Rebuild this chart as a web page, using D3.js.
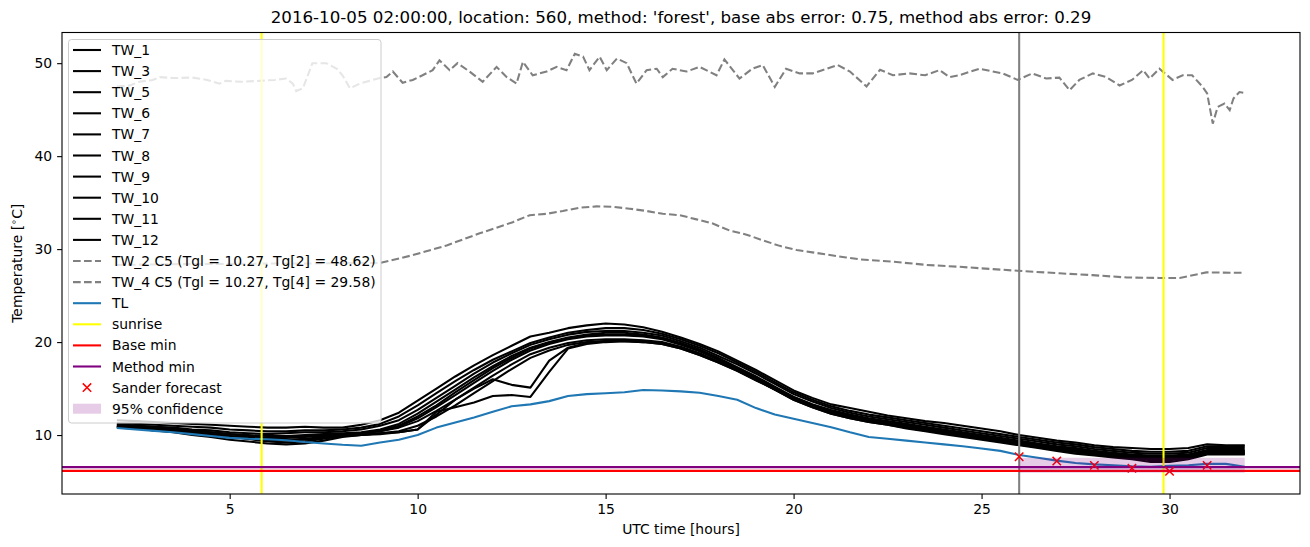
<!DOCTYPE html>
<html><head><meta charset="utf-8">
<script src="https://cdn.jsdelivr.net/npm/d3@7"></script>
<style>body{margin:0;background:#fff} svg{display:block} text{font-family:"DejaVu Sans",sans-serif;fill:#000}</style>
</head><body><svg id="c" width="1310" height="547"></svg>
<script>
// ---------------- DATA ----------------
const titleText = "2016-10-05 02:00:00, location: 560, method: 'forest', base abs error: 0.75, method abs error: 0.29";
const xTicks = [5, 10, 15, 20, 25, 30];
const yTicks = [10, 20, 30, 40, 50];

// half-hour grid for the TW sensor curves and TL
const hours = [2,2.5,3,3.5,4,4.5,5,5.5,6,6.5,7,7.5,8,8.5,9,9.5,10,10.5,11,11.5,12,12.5,13,13.5,14,14.5,15,15.5,16,16.5,17,17.5,18,18.5,19,19.5,20,20.5,21,21.5,22,22.5,23,23.5,24,24.5,25,25.5,26,26.5,27,27.5,28,28.5,29,29.5,30,30.5,31,31.5,32];

const TW_1 = [11.6,11.5,11.4,11.3,11.2,11.1,11.0,10.9,10.8,10.8, 10.9,10.8,10.8,11.1,11.6,12.4,13.7,15.0,16.3,17.5, 18.6,19.6,20.6,21.0,21.5,21.8,22.0,21.9,21.6,21.1, 20.5,19.8,19.0,18.0,17.0,15.9,14.8,14.0,13.3,12.9, 12.5,12.1,11.8,11.5,11.3,11.0,10.7,10.4,10.0,9.7, 9.4,9.2,8.9,8.7,8.6,8.5,8.5,8.6,9.0,8.9, 8.9];
const TW_3 = [11.3,11.2,11.1,11.0,10.9,10.8,10.6,10.5,10.4,10.4, 10.5,10.5,10.6,10.8,11.2,12.0,13.2,14.5,15.8,17.0, 18.1,19.0,19.9,20.5,21.0,21.3,21.5,21.5,21.3,20.9, 20.3,19.6,18.8,17.8,16.8,15.7,14.6,13.8,13.1,12.6, 12.2,11.9,11.6,11.3,11.0,10.7,10.4,10.1,9.8,9.5, 9.2,9.0,8.7,8.5,8.3,8.2,8.2,8.3,8.8,8.8, 8.8];
const TW_5 = [11.1,11.0,10.9,10.8,10.6,10.5,10.3,10.2,10.1,10.2, 10.3,10.3,10.4,10.6,11.0,11.6,12.7,14.0,15.3,16.6, 17.8,18.8,19.7,20.3,20.8,21.1,21.2,21.2,21.0,20.7, 20.1,19.4,18.5,17.6,16.6,15.5,14.4,13.6,12.9,12.4, 12.0,11.7,11.4,11.1,10.8,10.5,10.2,9.9,9.6,9.3, 9.0,8.8,8.5,8.3,8.1,8.0,8.0,8.1,8.6,8.6, 8.6];
const TW_6 = [11.0,10.9,10.8,10.6,10.5,10.3,10.1,10.0,9.9,9.9, 10.0,10.1,10.2,10.3,10.6,11.2,12.3,13.6,14.9,16.2, 17.4,18.5,19.4,20.0,20.5,20.8,21.0,21.0,20.8,20.5, 19.9,19.2,18.3,17.3,16.3,15.2,14.1,13.3,12.7,12.2, 11.8,11.5,11.2,10.9,10.6,10.3,10.0,9.7,9.4,9.1, 8.8,8.6,8.3,8.1,7.9,7.8,7.8,7.9,8.4,8.4, 8.4];
const TW_7 = [10.9,10.8,10.6,10.5,10.3,10.1,9.9,9.8,9.7,9.8, 9.9,10.0,10.1,10.2,10.4,10.9,11.8,13.0,14.3,15.6, 16.9,18.1,19.1,19.8,20.3,20.6,20.7,20.7,20.6,20.3, 19.7,19.0,18.1,17.1,16.1,15.0,14.0,13.2,12.5,12.0, 11.6,11.3,11.0,10.7,10.4,10.1,9.8,9.5,9.2,8.9, 8.6,8.4,8.1,7.9,7.7,7.6,7.6,7.7,8.2,8.2, 8.2];
const TW_8 = [10.8,10.7,10.5,10.4,10.2,10.0,9.8,9.6,9.5,9.5, 9.6,9.8,10.0,10.2,10.4,10.8,11.5,12.6,13.8,15.1, 16.4,17.6,18.7,19.4,19.9,20.2,20.3,20.3,20.2,20.0, 19.5,18.8,17.9,17.0,16.0,14.9,13.9,13.1,12.4,11.9, 11.5,11.2,10.9,10.6,10.3,10.0,9.7,9.4,9.1,8.8, 8.5,8.3,8.0,7.8,7.6,7.5,7.5,7.6,8.1,8.1, 8.1];
const TW_9 = [10.9,10.7,10.5,10.3,10.0,9.8,9.5,9.3,9.1,9.0, 9.1,9.4,9.8,10.0,10.2,10.4,11.0,12.0,13.2,14.5, 15.8,17.1,18.3,19.1,19.7,20.0,20.1,20.1,20.0,19.8, 19.3,18.6,17.8,16.9,15.9,14.9,13.8,13.0,12.3,11.8, 11.4,11.1,10.7,10.4,10.1,9.8,9.5,9.2,8.9,8.6, 8.3,8.0,7.8,7.6,7.4,7.1,7.1,7.4,7.9,7.9, 7.9];
const TW_10 = [11.2,11.0,10.9,10.7,10.5,10.3,10.1,9.9,9.7,9.7, 9.8,9.9,10.0,10.2,10.5,11.0,12.0,13.2,14.6,15.9, 17.2,18.3,19.3,19.9,20.4,20.7,20.8,20.8,20.7,20.4, 19.8,19.1,18.2,17.2,16.2,15.1,14.1,13.3,12.6,12.1, 11.7,11.4,11.1,10.8,10.5,10.2,9.9,9.6,9.3,9.0, 8.7,8.5,8.2,8.0,7.8,7.7,7.7,7.8,8.3,8.3, 8.3];
const TW_11 = [11.0,10.8,10.7,10.5,10.3,10.1,9.9,9.6,9.4,9.4, 9.5,9.7,9.9,10.0,10.2,10.3,10.6,12.2,13.8,15.0, 16.0,15.4,15.1,18.0,19.4,19.9,20.1,20.2,20.1,19.9, 19.4,18.7,17.9,17.0,16.0,15.0,13.9,13.1,12.4,11.9, 11.5,11.2,10.8,10.5,10.2,9.9,9.6,9.3,9.0,8.7, 8.4,8.2,7.9,7.7,7.5,7.3,7.3,7.5,8.0,8.0, 8.0];
const TW_12 = [10.9,10.8,10.6,10.4,10.2,10.0,9.8,9.6,9.3,9.2, 9.3,9.6,9.9,10.0,10.1,10.3,10.6,12.5,13.0,13.5, 14.2,14.3,14.1,16.8,19.3,19.8,20.0,20.1,20.0,19.8, 19.3,18.6,17.8,16.9,15.9,14.9,13.8,13.0,12.3,11.8, 11.4,11.1,10.8,10.5,10.2,9.9,9.6,9.3,9.0,8.7, 8.4,8.2,7.9,7.7,7.5,7.4,7.4,7.6,8.0,8.0, 8.0];

const TL = [10.75,10.6,10.45,10.3,10.1,9.9,9.7,9.6,9.55,9.45, 9.25,9.1,8.95,8.85,9.2,9.5,10.0,10.8,11.35,11.9, 12.5,13.1,13.3,13.65,14.2,14.4,14.5,14.6,14.85,14.8, 14.7,14.55,14.2,13.8,12.9,12.2,11.75,11.3,10.85,10.3, 9.8,9.6,9.4,9.2,9.0,8.8,8.55,8.3,7.85,7.55, 7.25,7.0,6.85,6.75,6.65,6.6,6.7,6.75,6.9,6.9, 6.6];

const tw2Hours = [2.0,2.34,2.6,2.95,3.14,3.5,4.0,4.4,4.73,4.9,5.3,5.8,6.2,6.5,6.68,6.77,6.95,7.2,7.57,7.85,8.0,8.2,8.46,8.8,9.0,9.17,9.34,9.6,9.87,10.13,10.4,10.58,10.85,11.06,11.38,11.73,12.1,12.37,12.63,12.8,13.06,13.43,13.7,13.96,14.18,14.4,14.57,14.84,15.03,15.3,15.56,15.82,16.09,16.36,16.52,16.78,17.15,17.5,17.95,18.16,18.56,18.9,19.18,19.5,19.8,20.16,20.5,20.88,21.17,21.5,21.94,22.3,22.64,23.08,23.5,23.88,24.15,24.4,24.95,25.3,25.56,25.96,26.35,26.72,27.07,27.34,27.6,27.96,28.32,28.67,29.0,29.3,29.47,29.73,30.08,30.35,30.6,30.88,31.0,31.15,31.28,31.46,31.6,31.7,31.86,32.0];
const TW_2 = [47.5,47.6,48.0,48.2,48.5,48.4,48.45,48.2,47.8,48.1,48.0,48.1,48.2,48.35,47.8,47.0,47.3,50.0,50.0,49.4,48.7,47.3,47.8,48.2,48.4,48.5,49.1,47.9,48.2,48.7,49.25,50.3,49.25,50.0,49.1,48.0,49.6,48.5,47.8,50.15,48.7,49.1,49.6,49.25,51.0,50.7,49.25,50.7,49.25,50.5,50.0,47.8,49.25,49.4,48.5,49.4,49.1,49.6,48.7,50.4,48.35,49.4,49.8,47.45,49.4,48.9,48.9,49.4,49.8,49.1,47.5,49.3,48.7,48.9,48.7,49.25,48.5,48.7,49.4,49.1,48.9,48.2,48.9,48.35,48.45,47.1,48.2,48.9,48.5,47.6,48.2,49.25,48.35,49.4,48.2,48.7,48.7,47.45,46.75,43.5,45.3,45.65,44.95,46.2,46.9,46.8];

const tw4Hours = [2,3,4,5,6,7,8,8.99,9.87,10.77,11.65,12.53,12.98,13.43,13.86,14.3,14.76,15.19,15.64,16.09,16.52,16.97,17.42,17.85,18.3,18.75,19.18,19.63,20.08,20.5,21.4,21.76,22.63,23.54,24.4,25.3,25.96,27.07,27.95,28.86,29.73,30.27,30.98,31.86,32];
const TW_4 = [28.3,28.35,28.4,28.4,28.45,28.45,28.5,28.5,29.35,30.4,31.7,32.9,33.65,33.8,34.1,34.45,34.6,34.55,34.35,34.1,33.8,33.65,33.2,32.75,32.0,31.55,30.95,30.35,29.9,29.65,29.1,28.9,28.65,28.3,28.1,27.85,27.67,27.4,27.2,26.95,26.9,26.9,27.5,27.45,27.45];

const sunriseHours = [5.85, 29.84];
const forecastStartHour = 26;
const baseMin = 6.15;
const methodMin = 6.55;
const forecastHours = [26, 27, 28, 29, 30, 31];
const forecastValues = [7.67, 7.2, 6.74, 6.42, 6.1, 6.74];
const confHours = [26, 32];
const confLower = [5.95, 5.95];
const confUpper = [7.55, 7.55];

const twNames = ["TW_1","TW_3","TW_5","TW_6","TW_7","TW_8","TW_9","TW_10","TW_11","TW_12"];
const twSeries = [TW_1,TW_3,TW_5,TW_6,TW_7,TW_8,TW_9,TW_10,TW_11,TW_12];
const dashedLabels = ["TW_2 C5 (Tgl = 10.27, Tg[2] = 48.62)", "TW_4 C5 (Tgl = 10.27, Tg[4] = 29.58)"];

// ---------------- DRAW ----------------
const svg = d3.select("#c");
const L = 62, R = 1300, T = 32.5, B = 494;
const LW = 2.08, DASH = "7.7,3.3", FS = "13.9px";
const x = d3.scaleLinear().domain([0.54, 33.47]).range([L, R]);
const y = d3.scaleLinear().domain([3.66, 53.3]).range([B, T]);

svg.append("defs").append("clipPath").attr("id","clip")
  .append("rect").attr("x",L).attr("y",T).attr("width",R-L).attr("height",B-T);
const g = svg.append("g").attr("clip-path","url(#clip)");

const line = (xs, ys) => d3.line().x((d,i)=>x(xs[i])).y(d=>y(d))(ys);

// TW curves
twSeries.forEach(s => {
  g.append("path").attr("d", line(hours, s)).attr("fill","none")
   .attr("stroke","#000").attr("stroke-width",LW).attr("stroke-linejoin","round");
});
// dashed
[[tw2Hours, TW_2],[tw4Hours, TW_4]].forEach(([hs, vs]) => {
  g.append("path").attr("d", line(hs, vs)).attr("fill","none")
   .attr("stroke","#808080").attr("stroke-width",LW).attr("stroke-dasharray",DASH);
});
// TL
g.append("path").attr("d", line(hours, TL)).attr("fill","none")
 .attr("stroke","#1f77b4").attr("stroke-width",LW).attr("stroke-linejoin","round");
// forecast start line
g.append("line").attr("x1",x(forecastStartHour)).attr("x2",x(forecastStartHour)).attr("y1",T).attr("y2",B)
 .attr("stroke","#808080").attr("stroke-width",LW);
// sunrise
sunriseHours.forEach(h => g.append("line").attr("x1",x(h)).attr("x2",x(h)).attr("y1",T).attr("y2",B)
  .attr("stroke","#ffff00").attr("stroke-width",LW));
// min lines
g.append("line").attr("x1",L).attr("x2",R).attr("y1",y(baseMin)).attr("y2",y(baseMin)).attr("stroke","#ff0000").attr("stroke-width",LW);
g.append("line").attr("x1",L).attr("x2",R).attr("y1",y(methodMin)).attr("y2",y(methodMin)).attr("stroke","#800080").attr("stroke-width",LW);
// forecast markers
const mk = 4.2;
forecastHours.forEach((h,i) => {
  const cx = x(h), cy = y(forecastValues[i]);
  g.append("path").attr("d",`M${cx-mk},${cy-mk}L${cx+mk},${cy+mk}M${cx-mk},${cy+mk}L${cx+mk},${cy-mk}`)
   .attr("stroke","#ff0000").attr("stroke-width",1.5);
});
// confidence band
g.append("path").attr("d", d3.area().x((d,i)=>x(confHours[i])).y0((d,i)=>y(confLower[i])).y1(d=>y(d))(confUpper))
 .attr("fill","#800080").attr("fill-opacity",0.2);

// axes
const xAxis = svg.append("g").attr("transform",`translate(0,${B})`)
  .call(d3.axisBottom(x).tickValues(xTicks).tickSize(4.9).tickPadding(4.9).tickFormat(d3.format("d")));
const yAxis = svg.append("g").attr("transform",`translate(${L},0)`)
  .call(d3.axisLeft(y).tickValues(yTicks).tickSize(4.9).tickPadding(4.9).tickFormat(d3.format("d")));
[xAxis,yAxis].forEach(a => {
  a.select(".domain").remove();
  a.selectAll("line").attr("stroke","#000").attr("stroke-width",1.1);
  a.selectAll("text").attr("font-size",FS).attr("font-family","DejaVu Sans").attr("fill","#000");
});
// frame
svg.append("rect").attr("x",L).attr("y",T).attr("width",R-L).attr("height",B-T)
  .attr("fill","none").attr("stroke","#000").attr("stroke-width",1.1);

// labels
svg.append("text").attr("x",(L+R)/2).attr("y",23).attr("text-anchor","middle").attr("font-size","16.67px").text(titleText);
svg.append("text").attr("x",(L+R)/2).attr("y",534).attr("text-anchor","middle").attr("font-size",FS).text("UTC time [hours]");
const yl = svg.append("text").attr("transform",`translate(22,${(T+B)/2}) rotate(-90)`).attr("text-anchor","middle").attr("font-size",FS);
yl.append("tspan").text("Temperature [");
yl.append("tspan").attr("font-size","9.7px").attr("dy",-5).text("∘");
yl.append("tspan").attr("dy",5).text("C]");

// legend
const lg = svg.append("g");
lg.append("rect").attr("x",68.5).attr("y",39.5).attr("width",312.5).attr("height",383.5).attr("rx",3)
  .attr("fill","#fff").attr("fill-opacity",0.8).attr("stroke","#cccccc").attr("stroke-width",1);
const items = [];
twNames.forEach(n => items.push({label:n, type:"line", color:"#000"}));
dashedLabels.forEach(n => items.push({label:n, type:"dash", color:"#808080"}));
items.push({label:"TL", type:"line", color:"#1f77b4"});
items.push({label:"sunrise", type:"line", color:"#ffff00"});
items.push({label:"Base min", type:"line", color:"#ff0000"});
items.push({label:"Method min", type:"line", color:"#800080"});
items.push({label:"Sander forecast", type:"marker", color:"#ff0000"});
items.push({label:"95% confidence", type:"patch", color:"#800080"});
const y0 = 50, dy = 21.1;
items.forEach((it,i) => {
  const cy = y0 + i*dy;
  if (it.type === "line" || it.type === "dash") {
    lg.append("line").attr("x1",73).attr("x2",101).attr("y1",cy).attr("y2",cy)
      .attr("stroke",it.color).attr("stroke-width",LW)
      .attr("stroke-dasharray", it.type==="dash" ? DASH : null);
  } else if (it.type === "marker") {
    lg.append("path").attr("d",`M${87-mk},${cy-mk}L${87+mk},${cy+mk}M${87-mk},${cy+mk}L${87+mk},${cy-mk}`)
      .attr("stroke",it.color).attr("stroke-width",1.5);
  } else {
    lg.append("rect").attr("x",73).attr("y",cy-5).attr("width",28).attr("height",10)
      .attr("fill",it.color).attr("fill-opacity",0.2);
  }
  lg.append("text").attr("x",112).attr("y",cy+5).attr("font-size",FS).text(it.label);
});
</script></body></html>
